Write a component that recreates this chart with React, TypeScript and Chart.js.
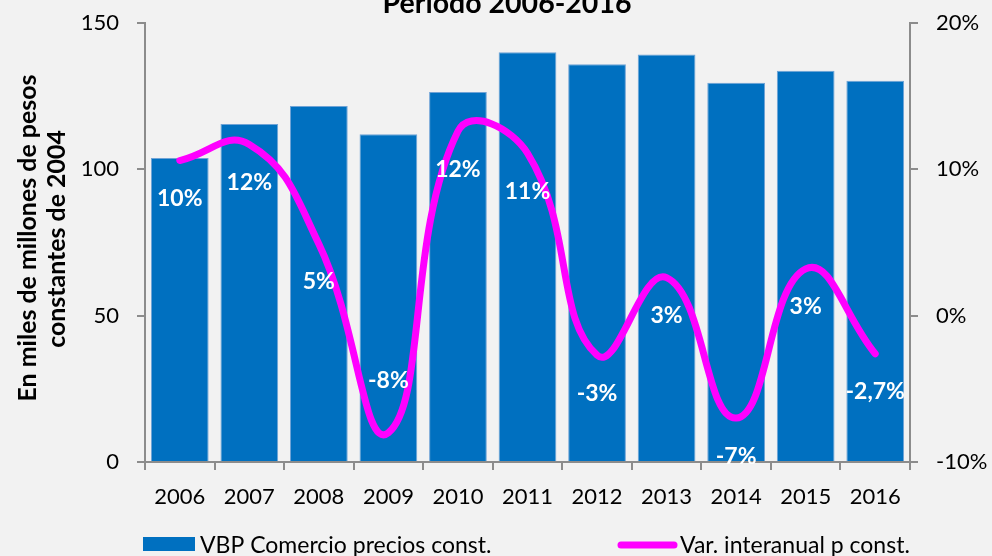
import React, { useEffect, useRef } from 'react';
import { Chart, registerables } from 'chart.js';

Chart.register(...registerables);

const years = ['2006', '2007', '2008', '2009', '2010', '2011', '2012', '2013', '2014', '2015', '2016'];
const vbpValues = [103.9, 115.5, 121.6, 112.0, 126.4, 140.0, 135.9, 139.2, 129.6, 133.7, 130.3];
const varValues = [10.6, 11.7, 4.9, -8.0, 12.6, 11.1, -2.7, 2.6, -7.0, 3.2, -2.6];
const varLabels = ['10%', '12%', '5%', '-8%', '12%', '11%', '-3%', '3%', '-7%', '3%', '-2,7%'];
const labelSides = ['below', 'below', 'below', 'above', 'below', 'below', 'below', 'below', 'below', 'below', 'below'];
const leftTicks = [0, 50, 100, 150];
const rightTicks = [-10, 0, 10, 20];
const titleText = 'Período 2006-2016';
const yTitleLines = ['En miles de millones de pesos', 'constantes de 2004'];
const barLegend = 'VBP Comercio precios const.';
const lineLegend = 'Var. interanual p const.';

const FONT = 'Lato, "Open Sans", sans-serif';
const BLUE = '#0070c0';
const MAGENTA = '#ff00ff';
const AXIS = '#8c8c8c';

function fitFont(ctx: CanvasRenderingContext2D, text: string, weight: string, target: number) {
  let size = 20;
  ctx.font = `${weight} ${size}px ${FONT}`;
  const w = ctx.measureText(text).width;
  size = (size * target) / w;
  ctx.font = `${weight} ${size}px ${FONT}`;
  return size;
}

const decorPlugin = {
  id: 'decor',
  beforeDraw(chart: any) {
    const { ctx, width, height } = chart;
    ctx.save();
    ctx.fillStyle = '#f2f2f2';
    ctx.fillRect(0, 0, width, height);
    ctx.restore();
  },
  afterDatasetsDraw(chart: any) {
    const { ctx } = chart;
    const meta = chart.getDatasetMeta(1);
    ctx.save();
    ctx.fillStyle = '#ffffff';
    ctx.font = `bold 23px ${FONT}`;
    ctx.textAlign = 'center';
    ctx.textBaseline = 'middle';
    meta.data.forEach((pt: any, i: number) => {
      const dy = labelSides[i] === 'above' ? -52 : 38;
      ctx.fillText(varLabels[i], pt.x, pt.y + dy);
    });
    ctx.restore();
  },
  afterDraw(chart: any) {
    const { ctx } = chart;
    ctx.save();
    ctx.fillStyle = '#000000';
    ctx.textAlign = 'center';
    ctx.textBaseline = 'alphabetic';
    fitFont(ctx, titleText, 'bold', 249);
    ctx.fillText(titleText, 507, 13);
    ctx.save();
    ctx.rotate(-Math.PI / 2);
    ctx.textBaseline = 'middle';
    const f1 = fitFont(ctx, yTitleLines[0], 'bold', 327);
    ctx.font = `bold ${f1}px ${FONT}`;
    ctx.fillText(yTitleLines[0], -238, 28);
    ctx.fillText(yTitleLines[1], -239, 57);
    ctx.restore();
    ctx.fillStyle = BLUE;
    ctx.fillRect(143, 537, 52, 14);
    ctx.strokeStyle = MAGENTA;
    ctx.lineWidth = 7;
    ctx.lineCap = 'round';
    ctx.beginPath();
    ctx.moveTo(621, 545);
    ctx.lineTo(674, 545);
    ctx.stroke();
    ctx.fillStyle = '#000000';
    ctx.textAlign = 'left';
    ctx.textBaseline = 'middle';
    fitFont(ctx, lineLegend, 'normal', 230);
    ctx.fillText(barLegend, 200, 546);
    ctx.fillText(lineLegend, 680, 546);
    ctx.restore();
  },
};

const fixVertical = (w: number) => (s: any) => {
  s.width = w;
  s.paddingTop = 0;
  s.paddingBottom = 0;
};

export default function App() {
  const ref = useRef<HTMLCanvasElement>(null);
  useEffect(() => {
    document.body.style.margin = '0';
    document.body.style.background = '#f2f2f2';
    const canvas = ref.current!;
    const chart = new Chart(canvas, {
      type: 'bar',
      data: {
        labels: years,
        datasets: [
          {
            type: 'bar',
            label: barLegend,
            data: vbpValues,
            backgroundColor: BLUE,
            borderColor: '#6fa3d6',
            borderWidth: 1,
            barPercentage: 0.83,
            categoryPercentage: 1,
            yAxisID: 'y',
            order: 2,
          },
          {
            type: 'line',
            label: lineLegend,
            data: varValues,
            borderColor: MAGENTA,
            borderWidth: 7,
            borderCapStyle: 'round',
            pointRadius: 0,
            tension: 0.45,
            yAxisID: 'y1',
            order: 1,
          } as any,
        ],
      },
      options: {
        responsive: false,
        animation: false,
        devicePixelRatio: 1,
        layout: { padding: { top: 23, left: 0, right: 0, bottom: 0 } },
        plugins: { legend: { display: false }, tooltip: { enabled: false }, title: { display: false } },
        scales: {
          x: {
            grid: { offset: true, drawOnChartArea: false, drawTicks: true, tickLength: 8, color: AXIS, lineWidth: 2 },
            border: { color: AXIS, width: 2 },
            ticks: { font: { family: FONT, size: 22 }, color: '#000', padding: 14 },
            afterFit: (s: any) => { s.height = 94; s.paddingLeft = 0; s.paddingRight = 0; },
          },
          y: {
            position: 'left',
            min: 0,
            max: 150,
            afterBuildTicks: (s: any) => { s.ticks = leftTicks.map((v) => ({ value: v })); },
            grid: { drawOnChartArea: false, drawTicks: true, tickLength: 8, color: AXIS, lineWidth: 2 },
            border: { color: AXIS, width: 2 },
            ticks: { font: { family: FONT, size: 22 }, color: '#000', padding: 18 },
            afterFit: fixVertical(145),
          },
          y1: {
            position: 'right',
            min: -10,
            max: 20,
            afterBuildTicks: (s: any) => { s.ticks = rightTicks.map((v) => ({ value: v })); },
            grid: { drawOnChartArea: false, drawTicks: true, tickLength: 8, color: AXIS, lineWidth: 2 },
            border: { color: AXIS, width: 2 },
            ticks: { font: { family: FONT, size: 22 }, color: '#000', padding: 18, callback: (v: any) => `${v}%` },
            afterFit: fixVertical(82),
          },
        },
      },
      plugins: [decorPlugin],
    });
    return () => chart.destroy();
  }, []);
  return <canvas ref={ref} width={992} height={556} style={{ display: 'block', width: 992, height: 556 }} />;
}
